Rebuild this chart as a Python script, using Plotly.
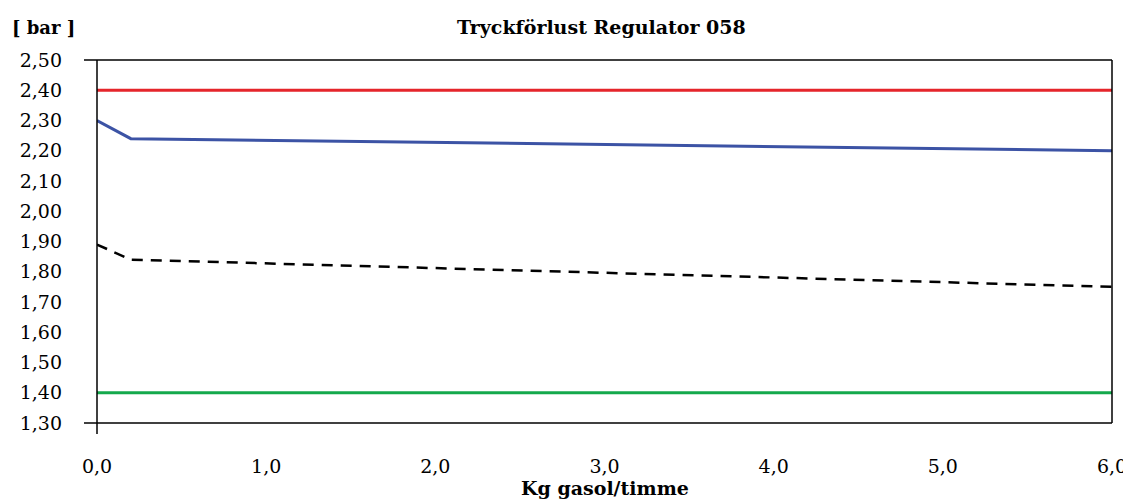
import plotly.graph_objects as go

x_vals = [0.0, 0.2, 6.0]
blue_vals = [2.30, 2.24, 2.20]
dash_vals = [1.89, 1.84, 1.75]
red_x = [0.0, 6.0]
red_vals = [2.40, 2.40]
green_x = [0.0, 6.0]
green_vals = [1.40, 1.40]

x_ticks = [0, 1, 2, 3, 4, 5, 6]
x_ticktext = ["0,0", "1,0", "2,0", "3,0", "4,0", "5,0", "6,0"]
y_ticks = [1.30, 1.40, 1.50, 1.60, 1.70, 1.80, 1.90, 2.00, 2.10, 2.20, 2.30, 2.40, 2.50]
y_ticktext = [("%.2f" % v).replace(".", ",") for v in y_ticks]

FONT = "DejaVu Serif"
PW, PH = 1015, 363
# the page body has an 8px margin, so the figure is drawn 8px smaller and shifted
OFF = 8

fig = go.Figure()
fig.add_trace(go.Scatter(x=red_x, y=red_vals, mode="lines",
                         line=dict(color="#E5252B", width=3), showlegend=False))
fig.add_trace(go.Scatter(x=green_x, y=green_vals, mode="lines",
                         line=dict(color="#14A94C", width=3), showlegend=False))
fig.add_trace(go.Scatter(x=x_vals, y=blue_vals, mode="lines",
                         line=dict(color="#3C53A5", width=3), showlegend=False))
fig.add_trace(go.Scatter(x=x_vals, y=dash_vals, mode="lines",
                         line=dict(color="black", width=2.5, dash="11px,8px"), showlegend=False))

fig.update_layout(
    template="none",
    width=1131 - OFF, height=503 - OFF,
    margin=dict(l=97 - OFF, r=19, t=60 - OFF, b=80, autoexpand=False),
    paper_bgcolor="white", plot_bgcolor="white",
    font=dict(family=FONT, size=19, color="black"),
    xaxis=dict(range=[0, 6], tickvals=x_ticks, ticktext=x_ticktext,
               showgrid=False, zeroline=False, showline=False, automargin=False,
               ticks="", ticklabelstandoff=30, ticklabeloverflow="allow"),
    yaxis=dict(range=[1.30, 2.50], tickvals=y_ticks, ticktext=y_ticktext,
               showgrid=False, zeroline=False, showline=False, automargin=False,
               ticks="", ticklabelstandoff=34),
)

# frame lines (axes extend slightly past the corner like the original)
line_style = dict(color="black", width=1.5)
fig.add_shape(type="line", xref="paper", yref="paper", x0=-13 / PW, x1=1, y0=1, y1=1, line=line_style)
fig.add_shape(type="line", xref="paper", yref="paper", x0=-13 / PW, x1=1, y0=0, y1=0, line=line_style)
fig.add_shape(type="line", xref="paper", yref="paper", x0=0, x1=0, y0=-11 / PH, y1=1, line=line_style)
fig.add_shape(type="line", xref="paper", yref="paper", x0=1, x1=1, y0=0, y1=1, line=line_style)

fig.add_annotation(text="<b>Tryckförlust Regulator 058</b>", xref="paper", yref="paper",
                   x=(601 - 97) / PW, y=1 + 33 / PH, xanchor="center", yanchor="middle",
                   showarrow=False, font=dict(size=19))
fig.add_annotation(text="<b>[ bar ]</b>", xref="paper", yref="paper",
                   x=-87 / PW, y=1 + 33 / PH, xanchor="left", yanchor="middle",
                   showarrow=False, font=dict(size=18))
fig.add_annotation(text="<b>Kg gasol/timme</b>", xref="paper", yref="paper",
                   x=(605 - 97) / PW, y=-(488 - 423) / PH, xanchor="center", yanchor="middle",
                   showarrow=False, font=dict(size=19))

fig.write_html("out.html")
